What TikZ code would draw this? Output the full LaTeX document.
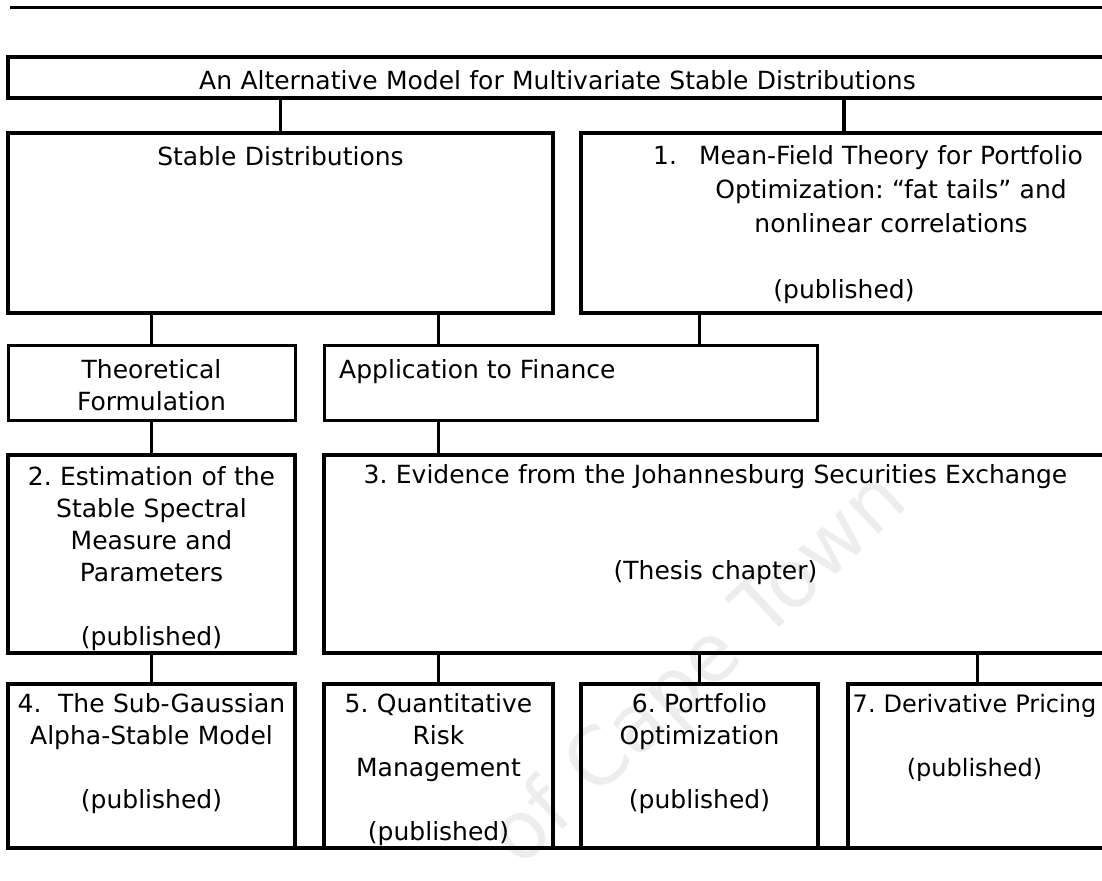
\documentclass[tikz,border=0pt]{standalone}
\usepackage{fontspec}
\setmainfont{DejaVu Sans}
\usetikzlibrary{%
    positioning
}
\frenchspacing
\tikzset{
    box/.style = {
        rectangle, draw=black, line width=4.8pt,
        inner sep=0pt, outer sep=0pt,
    },
    thinbox/.style = {box, line width=3pt},
    boxtext/.style = {
        align=center, inner sep=0pt, anchor=base,
        text width=#1,
        font=\fontsize{25}{32}\selectfont,
    },
    boxtext/.default = 260pt,
    link/.style = {line width=3.5pt},
    rule/.style = {line width=4.8pt},
}

\begin{document}
\begin{tikzpicture}[x=1pt, y=-1pt]
    \useasboundingbox (0,0) rectangle (1102,880);

    % watermark
    \node[
        rotate=43,
        anchor=base east,
        inner sep=0pt,
        text=gray!14,
        font=\fontsize{80}{80}\selectfont
    ] (mark) at (911,505) {of Cape Town};

    \draw[line width=3pt] (10,8) -- (1102,8);

    % boxes
    \node[
        box,
        minimum width = 1099pt,
        minimum height = 41pt,
        anchor=north west
    ] (title) at (8,57) {};
    \node[
        box,
        minimum width = 545pt,
        minimum height = 180pt,
        below=35pt of title.south west,
        anchor=north west
    ] (stable) {};
    \node[
        box,
        minimum width = 526pt,
        minimum height = 180pt,
        right=28pt of stable.north east,
        anchor=north west
    ] (meanfield) {};
    \node[
        thinbox,
        minimum width = 287pt,
        minimum height = 75pt,
        below=32pt of stable.south west,
        anchor=north west
    ] (theory) {};
    \node[
        thinbox,
        minimum width = 493pt,
        minimum height = 75pt,
        right=29pt of theory.north east,
        anchor=north west
    ] (appl) {};
    \node[
        box,
        minimum width = 287pt,
        minimum height = 198pt,
        below=35pt of theory.south west,
        anchor=north west
    ] (estim) {};
    \node[
        box,
        minimum width = 783pt,
        minimum height = 198pt,
        right=29pt of estim.north east,
        anchor=north west
    ] (evid) {};
    \node[
        box,
        minimum width = 287pt,
        minimum height = 164pt,
        below=31pt of estim.south west,
        anchor=north west
    ] (subgauss) {};
    \node[
        box,
        minimum width = 229pt,
        minimum height = 164pt,
        right=29pt of subgauss.north east,
        anchor=north west
    ] (risk) {};
    \node[
        box,
        minimum width = 237pt,
        minimum height = 164pt,
        right=28pt of risk.north east,
        anchor=north west
    ] (portf) {};
    \node[
        box,
        minimum width = 259pt,
        minimum height = 164pt,
        right=30pt of portf.north east,
        anchor=north west
    ] (deriv) {};

    % texts
    \node[boxtext=1000pt] (title-txt) at ([yshift=-33pt]title.north)
        {An Alternative Model for Multivariate Stable Distributions};
    \node[boxtext=500pt] (stable-txt) at ([yshift=-32pt]stable.north)
        {Stable Distributions};
    \node[
        boxtext=450pt,
        font=\fontsize{25}{34}\selectfont
    ] (meanfield-txt) at ([xshift=47pt, yshift=-31pt]meanfield.north)
        {\llap{1.\hspace{22pt}}Mean-Field Theory for Portfolio\\
         Optimization: “fat tails” and\\
         nonlinear correlations};
    \node[boxtext=450pt] (meanfield-pub) at ([yshift=-165pt]meanfield.north)
        {(published)};
    \node[boxtext] (theory-txt) at ([yshift=-33pt]theory.north)
        {Theoretical\\Formulation};
    \node[boxtext, anchor=base west, text width=] (appl-txt)
        at ([xshift=15pt, yshift=-33pt]appl.north west)
        {Application to Finance};
    \node[boxtext] (estim-txt) at ([yshift=-30pt]estim.north)
        {2. Estimation of the\\Stable Spectral\\Measure and\\Parameters\\[32pt](published)};
    \node[boxtext=760pt] (evid-txt) at ([yshift=-28pt]evid.north)
        {3. Evidence from the Johannesburg Securities Exchange\\[64pt](Thesis chapter)};
    \node[boxtext=280pt] (subgauss-txt) at ([yshift=-28pt]subgauss.north)
        {4.~ The Sub-Gaussian\\Alpha-Stable Model\\[32pt](published)};
    \node[boxtext=220pt] (risk-txt) at ([yshift=-28pt]risk.north)
        {5. Quantitative\\Risk\\Management\\[32pt](published)};
    \node[boxtext=230pt] (portf-txt) at ([yshift=-28pt]portf.north)
        {6. Portfolio\\Optimization\\[32pt](published)};
    \node[
        boxtext=250pt,
        font=\fontsize{24}{32}\selectfont
    ] (deriv-txt) at ([xshift=-3pt, yshift=-28pt]deriv.north)
        {7. Derivative Pricing\\[32pt](published)};

    % connectors
    \draw[link] (stable.north |- title.south) -- (stable.north);
    \draw[link] (meanfield.north |- title.south) -- (meanfield.north);
    \draw[link] (theory.north |- stable.south) -- (theory.north);
    \draw[link] (risk.north |- stable.south) -- (risk.north |- appl.north);
    \draw[link] (portf.north |- meanfield.south) -- (portf.north |- appl.north);
    \draw[link] (theory.south) -- (estim.north);
    \draw[link] (risk.north |- appl.south) -- (risk.north |- evid.north);
    \draw[link] (estim.south) -- (subgauss.north);
    \foreach \b in {risk, portf, deriv}
        \draw[link] (\b.north |- evid.south) -- (\b.north);
    \draw[rule] (subgauss.south west) -- (deriv.south east);
\end{tikzpicture}
\end{document}
